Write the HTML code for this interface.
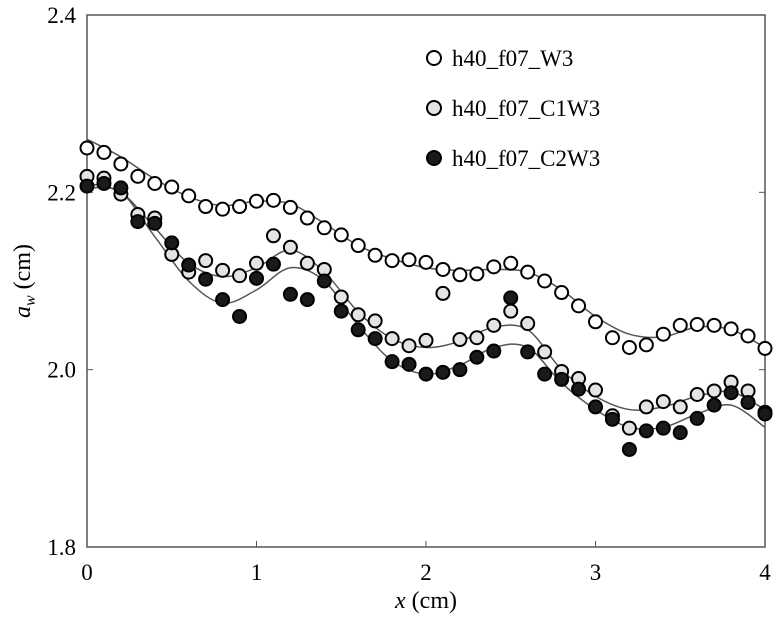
<!DOCTYPE html>
<html><head><meta charset="utf-8"><style>body{margin:0;background:#fff}svg{display:block}text{font-family:"Liberation Serif",serif;fill:#000}</style></head>
<body>
<svg id="c" width="782" height="624"></svg>
<script>
const xs=[0,0.1,0.2,0.3,0.4,0.5,0.6,0.7,0.8,0.9,1.0,1.1,1.2,1.3,1.4,1.5,1.6,1.7,1.8,1.9,2.0,2.1,2.2,2.3,2.4,2.5,2.6,2.7,2.8,2.9,3.0,3.1,3.2,3.3,3.4,3.5,3.6,3.7,3.8,3.9,4.0];
const w3=[2.25,2.245,2.232,2.218,2.21,2.206,2.196,2.184,2.181,2.184,2.19,2.191,2.183,2.171,2.16,2.152,2.14,2.129,2.123,2.124,2.121,2.113,2.107,2.108,2.116,2.12,2.11,2.1,2.087,2.072,2.054,2.036,2.025,2.028,2.04,2.05,2.051,2.05,2.046,2.038,2.024];
const c1w3=[2.218,2.216,2.198,2.175,2.171,2.13,2.11,2.123,2.112,2.106,2.12,2.151,2.138,2.12,2.113,2.082,2.062,2.055,2.035,2.027,2.033,2.086,2.034,2.036,2.05,2.066,2.052,2.02,1.998,1.99,1.977,1.948,1.934,1.958,1.964,1.958,1.972,1.976,1.986,1.976,1.952];
const c2w3=[2.207,2.21,2.205,2.167,2.165,2.143,2.118,2.102,2.079,2.06,2.103,2.119,2.085,2.079,2.1,2.066,2.045,2.035,2.009,2.006,1.995,1.997,2.0,2.014,2.021,2.081,2.02,1.995,1.989,1.978,1.958,1.944,1.91,1.931,1.934,1.929,1.945,1.96,1.974,1.963,1.95];
const fitX=[0,0.2,0.4,0.6,0.8,1.0,1.2,1.4,1.6,1.8,2.0,2.2,2.4,2.6,2.8,3.0,3.2,3.4,3.6,3.8,4.0];
const fitW3=[2.26,2.24,2.215,2.195,2.185,2.19,2.187,2.165,2.14,2.125,2.115,2.112,2.113,2.11,2.09,2.06,2.04,2.037,2.048,2.045,2.025];
const fitC1=[2.21,2.2,2.16,2.12,2.105,2.115,2.135,2.11,2.065,2.035,2.025,2.032,2.048,2.045,2.0,1.97,1.955,1.958,1.97,1.975,1.955];
const fitC2=[2.205,2.2,2.15,2.1,2.075,2.09,2.115,2.1,2.05,2.01,1.995,2.005,2.025,2.025,1.985,1.955,1.935,1.935,1.95,1.96,1.935];
const xTicks=[0,1,2,3,4];
const yTicks=[1.8,2.0,2.2,2.4];
const yTickLabels=["1.8","2.0","2.2","2.4"];
const L=87,R=765,T=15,B=547;
const X=v=>L+(v-0)/4*(R-L);
const Y=v=>B-(v-1.8)/0.6*(B-T);
const svg=document.getElementById('c');const NS='http://www.w3.org/2000/svg';
function mk(t,a,p){const e=document.createElementNS(NS,t);for(const k in a)e.setAttribute(k,a[k]);(p||svg).appendChild(e);return e;}
const frame=mk('rect',{x:L,y:T,width:R-L,height:B-T,fill:'none',stroke:'#555','stroke-width':1.5});


xTicks.forEach(v=>{const t=mk('line',{x1:X(v),x2:X(v),y1:B,y2:B-6,stroke:'#555'});


const tx=mk('text',{x:X(v),y:B+33,'text-anchor':'middle','font-size':23});tx.textContent=v;

});
yTicks.forEach((v,i)=>{const t=mk('line',{x1:L,x2:L+6,y1:Y(v),y2:Y(v),stroke:'#555'});


mk('line',{x1:R,x2:R-6,y1:Y(v),y2:Y(v),stroke:'#555'});
const tx=mk('text',{x:L-11,y:Y(v)+8,'text-anchor':'end','font-size':23});tx.textContent=yTickLabels[i];

});
function curve(xa,ya,name){const p=xa.map((x,i)=>[X(x),Y(ya[i])]);let d='M'+p[0][0]+','+p[0][1];
for(let i=0;i<p.length-1;i++){const p0=p[i-1]||p[i],p1=p[i],p2=p[i+1],p3=p[i+2]||p2;
d+=' C'+(p1[0]+(p2[0]-p0[0])/6)+','+(p1[1]+(p2[1]-p0[1])/6)+' '+(p2[0]-(p3[0]-p1[0])/6)+','+(p2[1]-(p3[1]-p1[1])/6)+' '+p2[0]+','+p2[1];}
const e=mk('path',{d:d,fill:'none',stroke:'#555','stroke-width':1.5});

}
curve(fitX,fitW3,'fit-w3');curve(fitX,fitC1,'fit-c1w3');curve(fitX,fitC2,'fit-c2w3');
function pts(ya,fill,name){const g=mk('g',{});


xs.forEach((x,i)=>{const c=mk('circle',{cx:X(x),cy:Y(ya[i]),r:6.5,fill:fill,stroke:'#000','stroke-width':2},g);

});}
pts(w3,'#fff','series-w3');pts(c1w3,'#e4e4e4','series-c1w3');pts(c2w3,'#1a1a1a','series-c2w3');
const leg=[['h40_f07_W3','#fff'],['h40_f07_C1W3','#e4e4e4'],['h40_f07_C2W3','#1a1a1a']];
leg.forEach((l,i)=>{const y=58+i*50;const g=mk('g',{});


mk('circle',{cx:434,cy:y,r:7,fill:l[1],stroke:'#000','stroke-width':2},g);
const t=mk('text',{x:452,y:y+8,'font-size':23},g);t.textContent=l[0];});
const xl=mk('text',{x:426,y:608,'text-anchor':'middle','font-size':24});xl.innerHTML='<tspan font-style="italic">x</tspan> (cm)';


const yl=mk('text',{x:30,y:281,'text-anchor':'middle','font-size':24,transform:'rotate(-90 30 281)'});yl.innerHTML='<tspan font-style="italic">a</tspan><tspan font-style="italic" font-size="16" dy="5">w</tspan><tspan dy="-5"> (cm)</tspan>';


</script>
</body></html>
